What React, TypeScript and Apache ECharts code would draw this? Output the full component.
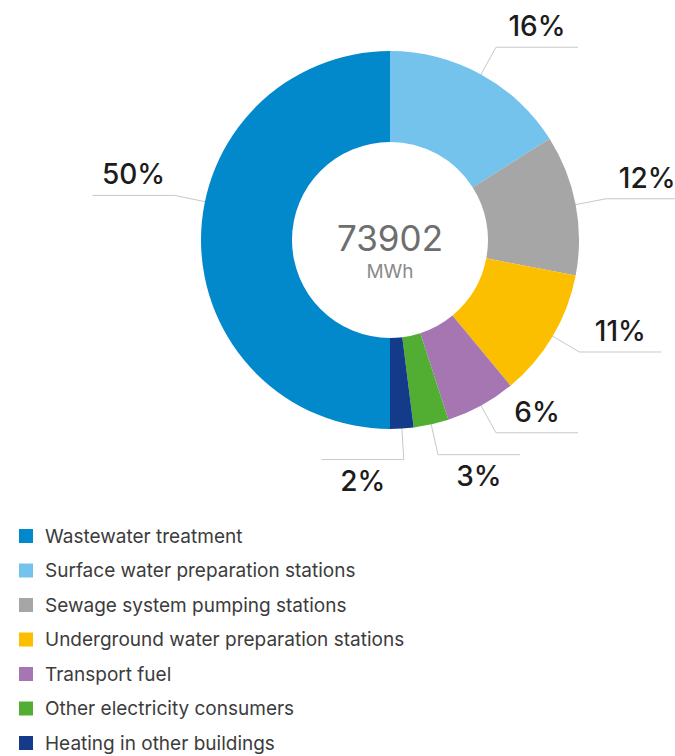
import { useEffect, useRef } from "react";
import * as echarts from "echarts";

const categories = [
  "Wastewater treatment",
  "Surface water preparation stations",
  "Sewage system pumping stations",
  "Underground water preparation stations",
  "Transport fuel",
  "Other electricity consumers",
  "Heating in other buildings",
];
const shares = [50, 16, 12, 11, 6, 3, 2];
const totalValue = "73902";
const totalUnit = "MWh";

const colors = ["#0189CC", "#74C3EC", "#A6A6A6", "#FCBF00", "#A676B2", "#52AE32", "#133B8A"];

// label styling per slice
const labelShift = [11.7, 0, 0, 0, 0, 0, 0];
const labelDir = [-1, 1, 1, 1, 1, 1, -1];
const labelBelow = [false, false, false, false, false, true, true];

const CX = 390;
const CY = 240;
const R_IN = 98;
const R_OUT = 189;
const R_ANCHOR = 165;
const R_ELBOW = 220;
const H_LEN = 82;
const FONT = "Inter, 'Noto Sans', sans-serif";

export default function App() {
  const ref = useRef<HTMLDivElement>(null);
  useEffect(() => {
    if (!ref.current) return;
    const chart = echarts.init(ref.current, undefined, { renderer: "svg" });
    const total = shares.reduce((a, b) => a + b, 0);
    const cum: number[] = [];
    let c = 0;
    shares.forEach((v) => {
      cum.push(c);
      c += v;
    });
    const pt = (deg: number, r: number) => {
      const a = (deg * Math.PI) / 180;
      return [CX + r * Math.sin(a), CY - r * Math.cos(a)];
    };
    chart.setOption({
      animation: false,
      color: colors,
      legend: {
        orient: "vertical",
        left: 19,
        top: 526.5,
        height: 240,
        padding: 0,
        itemWidth: 14,
        itemHeight: 14,
        itemGap: 15.5,
        icon: "rect",
        selectedMode: false,
        data: categories,
        textStyle: {
          fontSize: 19,
          color: "#3c3c3c",
          fontFamily: FONT,
          padding: [0, 0, 0, 7],
        },
      },
      graphic: [
        {
          type: "text",
          x: CX,
          y: 238,
          style: {
            text: totalValue,
            fill: "#6e6e6e",
            fontSize: 35,
            fontFamily: FONT,
            align: "center",
            verticalAlign: "middle",
          },
        },
        {
          type: "text",
          x: CX,
          y: 271,
          style: {
            text: totalUnit,
            fill: "#8a8a8a",
            fontSize: 19,
            fontFamily: FONT,
            align: "center",
            verticalAlign: "middle",
          },
        },
      ],
      series: [
        {
          type: "pie",
          center: [CX, CY],
          radius: [R_IN, R_OUT],
          startAngle: 270,
          clockwise: true,
          avoidLabelOverlap: false,
          data: categories.map((name, i) => ({ name, value: shares[i] })),
          label: {
            show: true,
            position: "outside",
            formatter: (p: any) => `${p.value}%`,
            fontSize: 28,
            fontWeight: 500,
            fontFamily: FONT,
            color: "#1c1c1c",
          },
          labelLine: {
            show: true,
            length: 31,
            length2: H_LEN,
            lineStyle: { color: "#c8c8c8", width: 1 },
          },
          labelLayout: (params: any) => {
            const i = params.dataIndex;
            const mid = 180 + ((cum[i] + shares[i] / 2) / total) * 360 + labelShift[i];
            const p0 = pt(mid, R_ANCHOR);
            const p1 = pt(mid, R_ELBOW);
            const p2 = [p1[0] + labelDir[i] * H_LEN, p1[1]];
            return {
              x: p1[0] + (labelDir[i] * H_LEN) / 2,
              y: p1[1] + (labelBelow[i] ? 21 : -21),
              align: "center",
              verticalAlign: "middle",
              labelLinePoints: [p0, p1, p2],
            };
          },
          emphasis: { disabled: true },
        },
      ],
    });
    return () => chart.dispose();
  }, []);
  return (
    <div
      ref={ref}
      style={{ position: "absolute", left: 0, top: 0, width: 675, height: 756 }}
    />
  );
}
